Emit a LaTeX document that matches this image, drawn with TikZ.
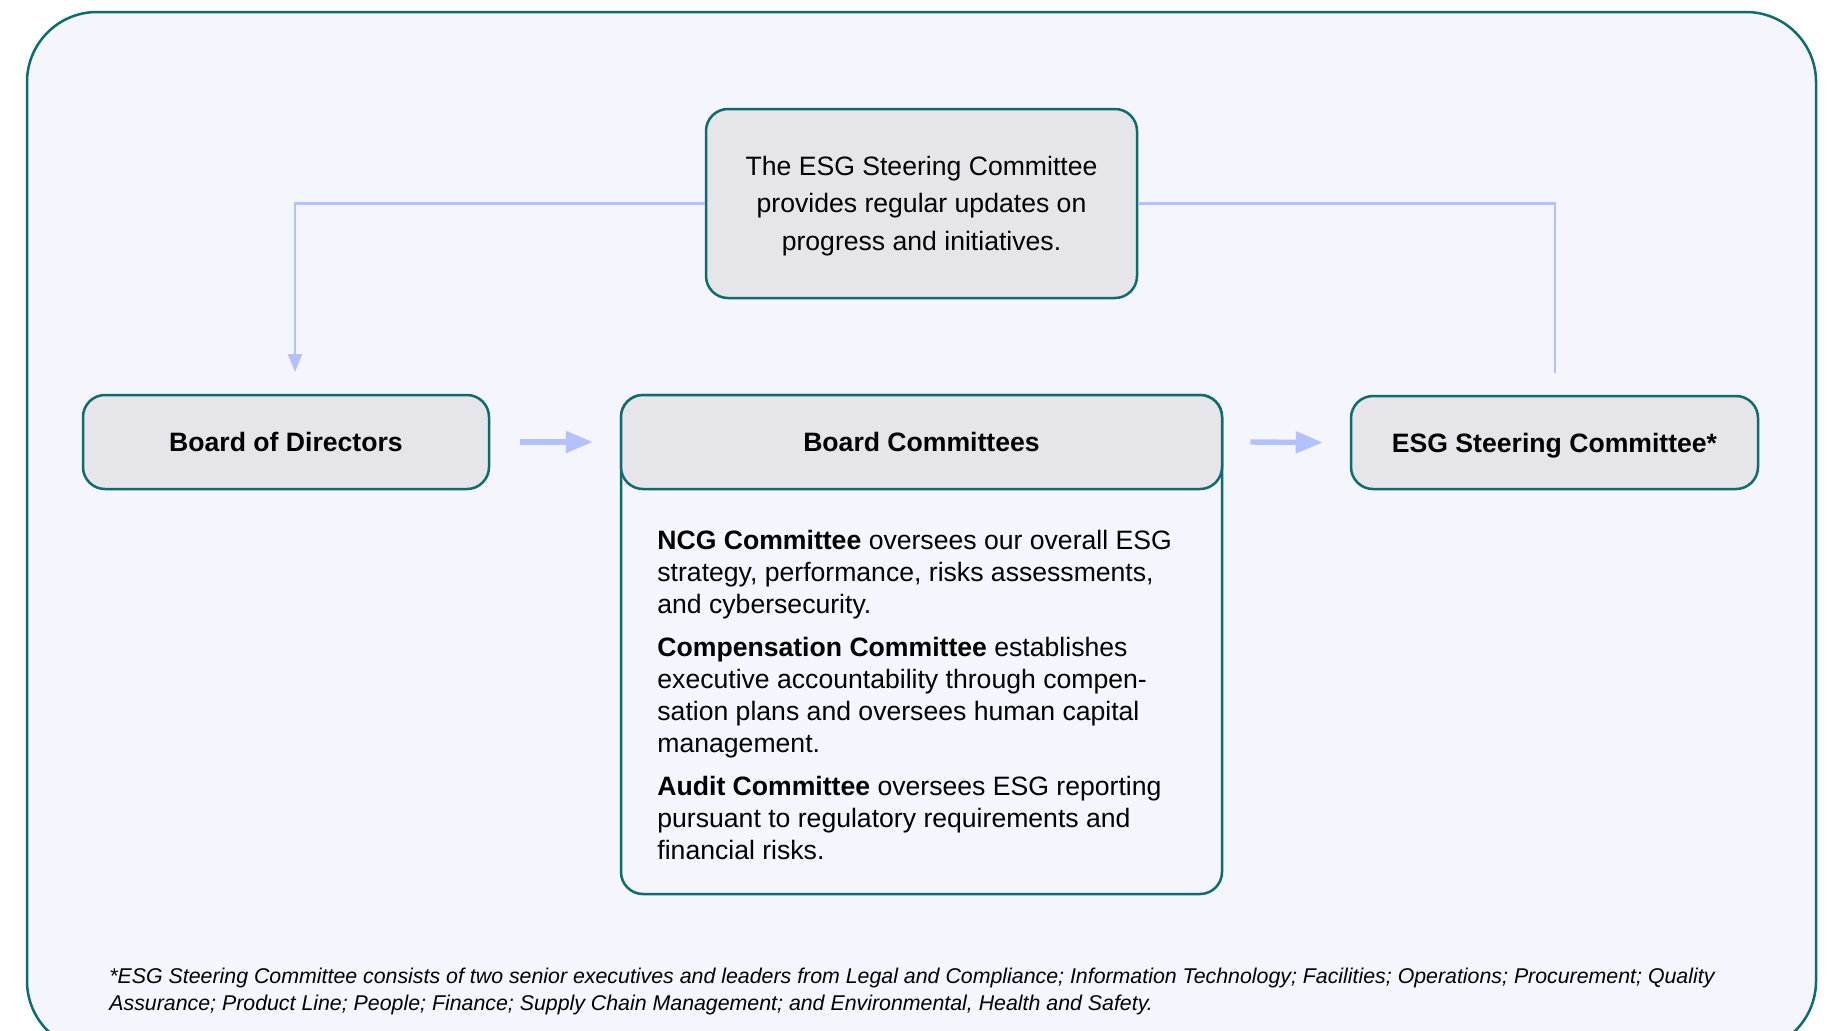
\documentclass[tikz,border=0pt]{standalone}
\usepackage{fontspec}
\setmainfont{Liberation Sans}
\usetikzlibrary{arrows.meta}
\definecolor{frameteal}{RGB}{15,108,110}
\definecolor{panelbg}{RGB}{244,245,253}
\definecolor{boxgray}{RGB}{229,229,234}
\definecolor{linkblue}{RGB}{179,193,254}
\begin{document}
\begin{tikzpicture}[x=0.5pt,y=-0.5pt,
  box/.style={draw=frameteal, line width=1.25pt, fill=boxgray, rounded corners=11pt,
    inner sep=0pt, align=center, font=\fontsize{13.3pt}{18.75pt}\selectfont},
  titlebox/.style={box, font=\fontsize{13.3pt}{16pt}\selectfont\bfseries,
    text height=9.6pt, text depth=0pt},
  panel/.style={draw=frameteal, line width=1.25pt, fill=panelbg, rounded corners=11pt, inner sep=0pt},
  link/.style={draw=linkblue, line width=1.25pt},
  flow/.style={draw=linkblue, line width=2.7pt, -{Triangle[length=13.5pt,width=10.5pt]}},
  plaintext/.style={inner sep=0pt, align=center, font=\fontsize{13.3pt}{18.75pt}\selectfont},
  bodytext/.style={inner sep=0pt, align=left, font=\fontsize{13.3pt}{16pt}\selectfont},
  notetext/.style={inner sep=0pt, align=left, font=\fontsize{10.67pt}{13.5pt}\selectfont\itshape}
]
\useasboundingbox (0,0) rectangle (1834,1030);
\clip (0,0) rectangle (1834,1030);
\fill[white] (0,0) rectangle (1834,1030);
% outer frame
\draw[draw=frameteal, fill=panelbg, line width=1.25pt, rounded corners=35pt] (27,12) rectangle (1816,1051);

% boxes
\node[box, minimum width=215.5pt, minimum height=94.5pt] (upd) at (921.5,203.5) {};
\node[plaintext] (updtext) at (921.5,206)
  {The ESG Steering Committee\\provides regular updates on\\progress and initiatives.};
\node[titlebox, minimum width=203pt, minimum height=47pt] (bod) at (286,442) {Board of Directors};
\node[panel, minimum width=300.5pt, minimum height=249.5pt] (bcpanel) at (921.5,644.5) {};
\node[titlebox, minimum width=300.5pt, minimum height=47pt] (bc) at (921.5,442) {Board Committees};
\node[titlebox, minimum width=203.5pt, minimum height=46.5pt] (esg) at (1554.5,442.5) {ESG Steering Committee*};

% committee descriptions
\node[bodytext, anchor=north west] (bcnotes) at (657,530)
  {\textbf{NCG Committee} oversees our overall ESG\\
   strategy, performance, risks assessments,\\
   and cybersecurity.\\[5.5pt]
   \textbf{Compensation Committee} establishes\\
   executive accountability through compen-\\
   sation plans and oversees human capital\\
   management.\\[5.5pt]
   \textbf{Audit Committee} oversees ESG reporting\\
   pursuant to regulatory requirements and\\
   financial risks.};

% reporting lines
\coordinate (bodin) at (295,372);
\coordinate (esgout) at (1555,373);
\draw[link, -{Triangle[length=9pt,width=7pt]}] (upd.west) -| (bodin);
\draw[link] (esgout) |- (upd.east);

% flow arrows
\draw[flow] ([xshift=15pt]bod.east) -- ([xshift=-13.5pt]bc.west);
\draw[flow] ([xshift=13.5pt]bc.east) -- ([xshift=-13.5pt]esg.west);

% footnote
\node[notetext, anchor=north west] (note) at (109,968)
  {*ESG Steering Committee consists of two senior executives and leaders from Legal and Compliance; Information Technology; Facilities; Operations; Procurement; Quality\\
   Assurance; Product Line; People; Finance; Supply Chain Management; and Environmental, Health and Safety.};
\end{tikzpicture}
\end{document}
